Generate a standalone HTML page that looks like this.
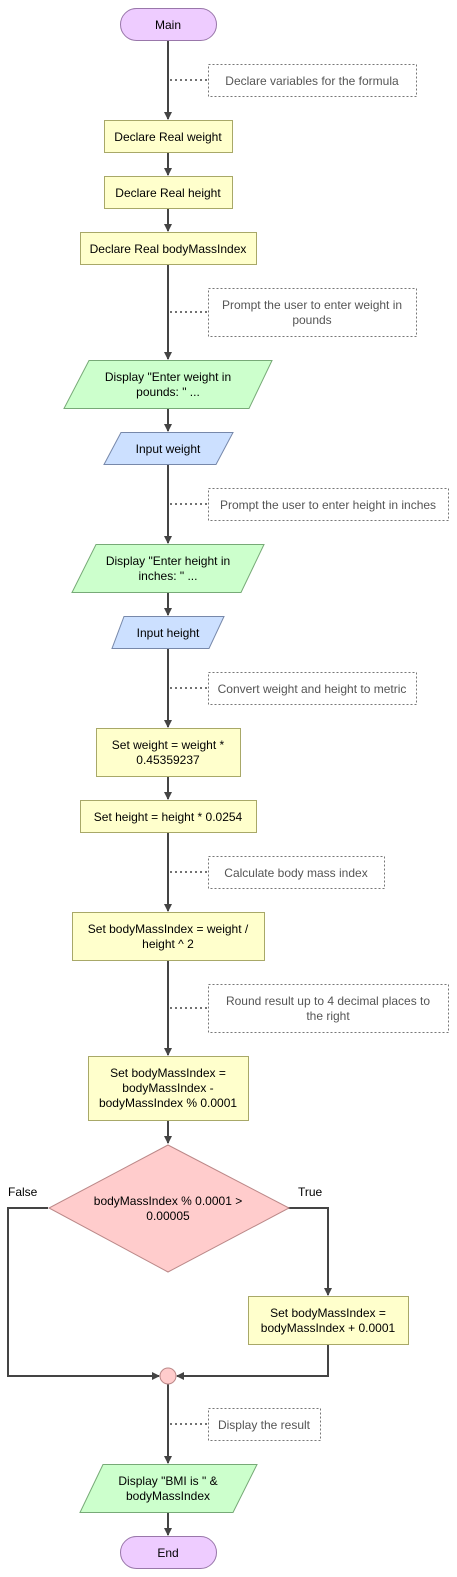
<!DOCTYPE html>
<html><head><meta charset="utf-8"><style>
html,body{margin:0;padding:0;background:#fff;}
svg{display:block;}
text{font-family:"Liberation Sans",Arial,sans-serif;font-size:12px;}
.t{fill:#000;text-anchor:middle;}
.c{fill:#555;text-anchor:middle;}
.ln{stroke:#444;stroke-width:2;fill:none;}
.dot{stroke:#444;stroke-width:1.5;stroke-dasharray:2,3;fill:none;}
.cm{fill:#fff;stroke:#777;stroke-width:1;stroke-dasharray:2,2;}
.pr{fill:#ffffcc;stroke:#a8a868;stroke-width:1;}
.io{fill:#ccffcc;stroke:#77aa77;stroke-width:1;}
.in{fill:#cce0ff;stroke:#7788aa;stroke-width:1;}
.te{fill:#eeccff;stroke:#9977aa;stroke-width:1;}
</style></head><body>
<svg width="457" height="1577" viewBox="0 0 457 1577" xmlns="http://www.w3.org/2000/svg">
<defs><marker id="a" markerWidth="8" markerHeight="8" refX="7" refY="4" orient="auto" markerUnits="userSpaceOnUse"><path d="M0,0 L8,4 L0,8 Z" fill="#444"/></marker></defs>
<!-- main spine -->
<line class="ln" x1="168" y1="40" x2="168" y2="119" marker-end="url(#a)"/>
<line class="ln" x1="168" y1="152" x2="168" y2="175" marker-end="url(#a)"/>
<line class="ln" x1="168" y1="208" x2="168" y2="231" marker-end="url(#a)"/>
<line class="ln" x1="168" y1="264" x2="168" y2="359" marker-end="url(#a)"/>
<line class="ln" x1="168" y1="408" x2="168" y2="431" marker-end="url(#a)"/>
<line class="ln" x1="168" y1="464" x2="168" y2="543" marker-end="url(#a)"/>
<line class="ln" x1="168" y1="592" x2="168" y2="615" marker-end="url(#a)"/>
<line class="ln" x1="168" y1="648" x2="168" y2="727" marker-end="url(#a)"/>
<line class="ln" x1="168" y1="776" x2="168" y2="799" marker-end="url(#a)"/>
<line class="ln" x1="168" y1="832" x2="168" y2="911" marker-end="url(#a)"/>
<line class="ln" x1="168" y1="960" x2="168" y2="1055" marker-end="url(#a)"/>
<line class="ln" x1="168" y1="1120" x2="168" y2="1143" marker-end="url(#a)"/>
<polyline class="ln" points="48,1208 8,1208 8,1376 159,1376" marker-end="url(#a)"/>
<polyline class="ln" points="288,1208 328,1208 328,1295" marker-end="url(#a)"/>
<polyline class="ln" points="328,1344 328,1376 177,1376" marker-end="url(#a)"/>
<line class="ln" x1="168" y1="1384" x2="168" y2="1463" marker-end="url(#a)"/>
<line class="ln" x1="168" y1="1512" x2="168" y2="1535" marker-end="url(#a)"/>
<!-- dotted comment links -->
<line class="dot" x1="170" y1="80" x2="208" y2="80"/>
<line class="dot" x1="170" y1="312" x2="208" y2="312"/>
<line class="dot" x1="170" y1="504" x2="208" y2="504"/>
<line class="dot" x1="170" y1="688" x2="208" y2="688"/>
<line class="dot" x1="170" y1="872" x2="208" y2="872"/>
<line class="dot" x1="170" y1="1008" x2="208" y2="1008"/>
<line class="dot" x1="170" y1="1424" x2="208" y2="1424"/>
<!-- comments -->
<rect class="cm" x="208.5" y="64.5" width="208" height="32"/><text class="c" x="312" y="85">Declare variables for the formula</text>
<rect class="cm" x="208.5" y="288.5" width="208" height="48"/><text class="c" x="312" y="309">Prompt the user to enter weight in</text><text class="c" x="312" y="324">pounds</text>
<rect class="cm" x="208.5" y="488.5" width="240" height="32"/><text class="c" x="328" y="509">Prompt the user to enter height in inches</text>
<rect class="cm" x="208.5" y="672.5" width="208" height="32"/><text class="c" x="312" y="693">Convert weight and height to metric</text>
<rect class="cm" x="208.5" y="856.5" width="176" height="32"/><text class="c" x="296" y="877">Calculate body mass index</text>
<rect class="cm" x="208.5" y="984.5" width="240" height="48"/><text class="c" x="328" y="1005">Round result up to 4 decimal places to</text><text class="c" x="328" y="1020">the right</text>
<rect class="cm" x="208.5" y="1408.5" width="112" height="32"/><text class="c" x="264" y="1429">Display the result</text>
<!-- nodes -->
<rect class="te" x="120.5" y="8.5" width="96" height="32" rx="16"/><text class="t" x="168" y="29">Main</text>
<rect class="pr" x="104.5" y="120.5" width="128" height="32"/><text class="t" x="168" y="141">Declare Real weight</text>
<rect class="pr" x="104.5" y="176.5" width="128" height="32"/><text class="t" x="168" y="197">Declare Real height</text>
<rect class="pr" x="80.5" y="232.5" width="176" height="32"/><text class="t" x="168" y="253">Declare Real bodyMassIndex</text>
<polygon class="io" points="89,360.5 272,360.5 249,408.5 64,408.5"/><text class="t" x="168" y="381">Display "Enter weight in</text><text class="t" x="168" y="396">pounds: " ...</text>
<polygon class="in" points="121,432.5 233,432.5 216,464.5 104,464.5"/><text class="t" x="168" y="453">Input weight</text>
<polygon class="io" points="96,544.5 264,544.5 241,592.5 72,592.5"/><text class="t" x="168" y="565">Display "Enter height in</text><text class="t" x="168" y="580">inches: " ...</text>
<polygon class="in" points="124,616.5 224,616.5 209,648.5 112,648.5"/><text class="t" x="168" y="637">Input height</text>
<rect class="pr" x="96.5" y="728.5" width="144" height="48"/><text class="t" x="168" y="749">Set weight = weight *</text><text class="t" x="168" y="764">0.45359237</text>
<rect class="pr" x="80.5" y="800.5" width="176" height="32"/><text class="t" x="168" y="821">Set height = height * 0.0254</text>
<rect class="pr" x="72.5" y="912.5" width="192" height="48"/><text class="t" x="168" y="933">Set bodyMassIndex = weight /</text><text class="t" x="168" y="948">height ^ 2</text>
<rect class="pr" x="88.5" y="1056.5" width="160" height="64"/><text class="t" x="168" y="1077">Set bodyMassIndex =</text><text class="t" x="168" y="1092">bodyMassIndex -</text><text class="t" x="168" y="1107">bodyMassIndex % 0.0001</text>
<polygon points="168,1145 289,1208 168,1272 49,1208" fill="#ffcccc" stroke="#bb8888" stroke-width="1"/>
<text class="t" x="168" y="1205">bodyMassIndex % 0.0001 &gt;</text><text class="t" x="168" y="1220">0.00005</text>
<text x="8" y="1196" style="fill:#000">False</text>
<text x="298" y="1196" style="fill:#000">True</text>
<rect class="pr" x="248.5" y="1296.5" width="160" height="48"/><text class="t" x="328" y="1317">Set bodyMassIndex =</text><text class="t" x="328" y="1332">bodyMassIndex + 0.0001</text>
<circle cx="168" cy="1376" r="8" fill="#ffcccc" stroke="#bb8888" stroke-width="1"/>
<polygon class="io" points="103,1464.5 257,1464.5 233,1512.5 80,1512.5"/><text class="t" x="168" y="1485">Display "BMI is " &amp;</text><text class="t" x="168" y="1500">bodyMassIndex</text>
<rect class="te" x="120.5" y="1536.5" width="96" height="32" rx="16"/><text class="t" x="168" y="1557">End</text>
</svg>
</body></html>
